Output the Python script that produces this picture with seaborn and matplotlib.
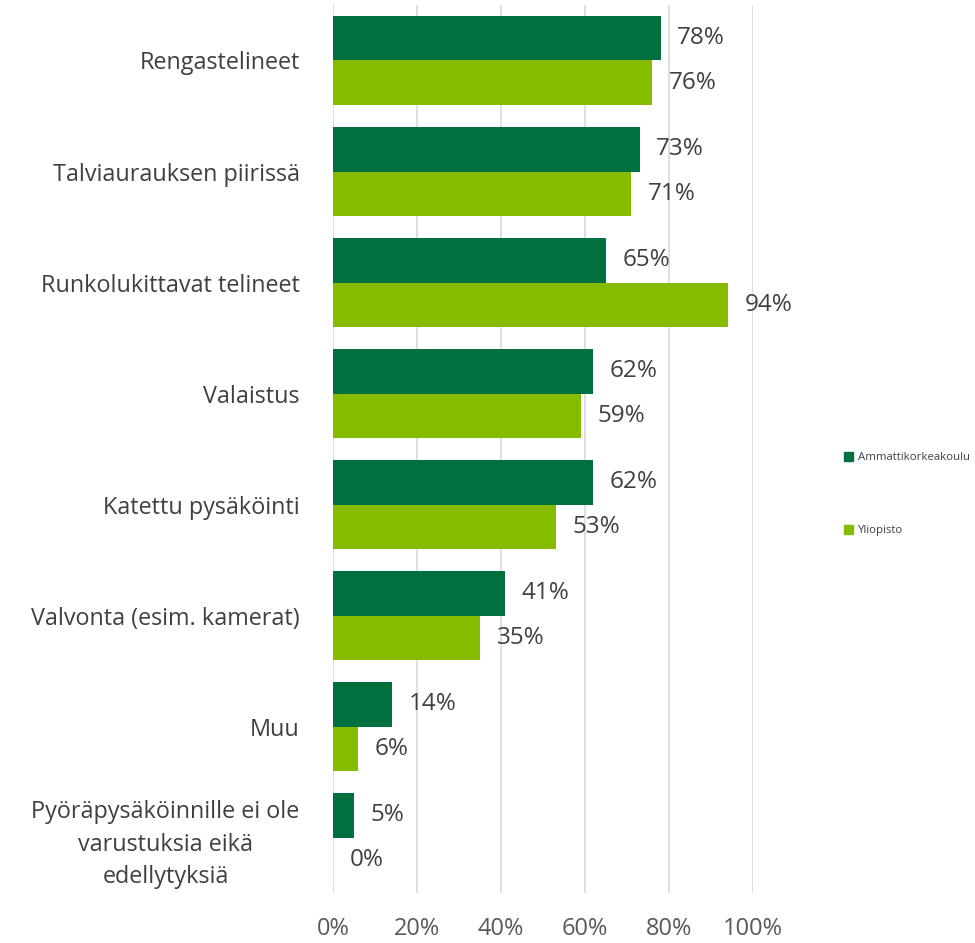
import matplotlib
matplotlib.use("Agg")
import matplotlib.pyplot as plt
import seaborn as sns
import pandas as pd
from matplotlib.patches import Patch

categories = ["Rengastelineet", "Talviaurauksen piirissä", "Runkolukittavat telineet",
              "Valaistus", "Katettu pysäköinti", "Valvonta (esim. kamerat)", "Muu",
              "Pyöräpysäköinnille ei ole\nvarustuksia eikä\nedellytyksiä"]
series = ["Ammattikorkeakoulu", "Yliopisto"]
amk = [78, 73, 65, 62, 62, 41, 14, 5]
yo = [76, 71, 94, 59, 53, 35, 6, 0]
xticks = [0, 20, 40, 60, 80, 100]
colors = ["#007041", "#86BC00"]

rows = []
for c, a, y in zip(categories, amk, yo):
    rows.append({"cat": c, "series": series[0], "val": a})
    rows.append({"cat": c, "series": series[1], "val": y})
df = pd.DataFrame(rows)

sns.set_style("white")
plt.rcParams["font.family"] = ["Open Sans", "DejaVu Sans"]

fig = plt.figure(figsize=(9.75, 9.43), dpi=100)
ax = fig.add_axes([0.3415, 0.053, 0.4308, 0.9417])
sns.barplot(data=df, y="cat", x="val", hue="series", orient="h", palette=colors,
            order=categories, hue_order=series, width=0.8, ax=ax, legend=False,
            saturation=1, linewidth=0)

ax.set_xlim(0, 100)
ax.set_xticks(xticks)
ax.set_xticklabels([f"{t}%" for t in xticks], fontsize=17, color="#595959")
ax.tick_params(axis="x", pad=17, length=0)
ax.tick_params(axis="y", length=0, pad=24)
for lab in ax.get_yticklabels():
    lab.set_fontsize(16.8)
    lab.set_color("#404040")
    lab.set_multialignment("center")
    lab.set_linespacing(1.45)
ax.set_xlabel("")
ax.set_ylabel("")
ax.grid(axis="x", color="#D9D9D9", linewidth=1.2)
ax.set_axisbelow(True)
for s in ax.spines.values():
    s.set_visible(False)

for cont in ax.containers:
    ax.bar_label(cont, labels=[f"{v:.0f}%" for v in cont.datavalues],
                 padding=12, fontsize=17.5, color="#404040")

handles = [Patch(color=colors[0], label=series[0]), Patch(color=colors[1], label=series[1])]
fig.legend(handles=handles, loc="center left", bbox_to_anchor=(0.866, 0.476),
           frameon=False, fontsize=8.2, handlelength=0.8, handleheight=0.8,
           handletextpad=0.4, labelspacing=5.4, labelcolor="#404040",
           borderaxespad=0, borderpad=0)

fig.savefig("out.png", dpi=100)
